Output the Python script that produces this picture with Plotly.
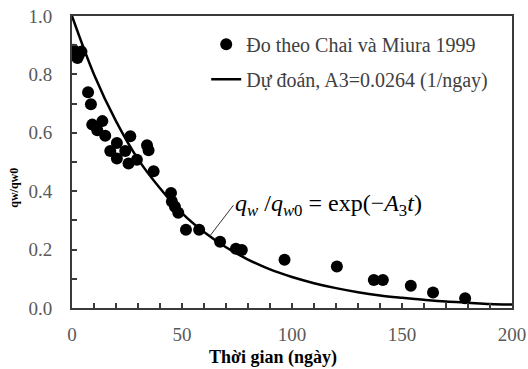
import plotly.graph_objects as go

# Measured data (Chai & Miura 1999)
t_obs = [0.7, 2.5, 4.3, 3.0, 7.3, 8.6, 9.2, 11.5, 13.8, 15.1, 17.4, 20.4, 20.4, 24.2, 26.5,
         25.7, 29.5, 34.1, 34.8, 37.1, 45.0, 45.4, 46.8, 48.3, 51.8, 57.8, 67.3, 74.5, 77.2,
         96.6, 120.4, 137.2, 141.3, 154.0, 164.1, 178.7]
q_obs = [0.884, 0.856, 0.878, 0.866, 0.739, 0.698, 0.628, 0.609, 0.640, 0.590, 0.538, 0.565,
         0.512, 0.538, 0.588, 0.495, 0.508, 0.557, 0.540, 0.468, 0.394, 0.365, 0.347, 0.326,
         0.268, 0.268, 0.227, 0.203, 0.199, 0.165, 0.142, 0.096, 0.096, 0.076, 0.053, 0.033]

# Predicted curve
t_pred = [0, 10, 20, 30, 40, 50, 60, 70, 80, 90, 100, 110, 120, 130, 140, 150, 160, 170, 180, 190, 200]
q_pred = [1.0, 0.80, 0.64, 0.51, 0.41, 0.325, 0.26, 0.208, 0.166, 0.132, 0.106, 0.085, 0.068,
          0.054, 0.043, 0.035, 0.028, 0.022, 0.018, 0.014, 0.012]

name_obs = "Đo theo Chai và Miura 1999"
name_pred = "Dự đoán, A3=0.0264 (1/ngay)"

FONT = "Liberation Serif"
AX = "#3a3a3a"

fig = go.Figure()
fig.add_trace(go.Scatter(x=t_obs, y=q_obs, mode="markers", name=name_obs, legendgroup="a",
                         marker=dict(color="black", size=12)))
fig.add_trace(go.Scatter(x=t_pred, y=q_pred, mode="lines", name=name_pred, legendgroup="b",
                         line=dict(color="black", width=2.5, shape="spline")))

axis_common = dict(showline=True, linecolor=AX, linewidth=2, mirror=True, showgrid=False,
                   zeroline=False, ticks="inside", ticklen=5, tickwidth=1.5, tickcolor=AX,
                   automargin=False,
                   tickfont=dict(family=FONT, size=19, color="#595959"))

fig.update_xaxes(range=[0, 200], dtick=50, tick0=0,
                 minor=dict(dtick=10, ticks="inside", ticklen=5, tickwidth=1.5, tickcolor=AX),
                 ticklabelstandoff=8, **axis_common)
fig.update_yaxes(range=[0, 1.0], dtick=0.2, tick0=0, tickformat=".1f",
                 minor=dict(dtick=0.1, ticks="inside", ticklen=5, tickwidth=1.5, tickcolor=AX),
                 ticklabelstandoff=14, **axis_common)

fig.add_annotation(xref="paper", yref="paper", x=-0.131, y=0.413, text="<b>qw/qw0</b>",
                   xanchor="center", yanchor="middle",
                   textangle=-90, showarrow=False, font=dict(family=FONT, size=12, color="black"))
fig.add_annotation(xref="paper", yref="paper", x=0.457, y=-0.169, text="<b>Thời gian (ngày)</b>",
                   xanchor="center", yanchor="middle",
                   showarrow=False, font=dict(family=FONT, size=18, color="black"))

fig.add_annotation(x=62.9, y=0.249, xref="x", yref="y",
                   text="<i>q</i><sub><i>w</i></sub> /<i>q</i><sub><i>w</i>0</sub> = exp(−<i>A</i><sub>3</sub><i>t</i>)",
                   showarrow=True, arrowhead=0, arrowwidth=1, arrowcolor="#333333",
                   ax=23, ay=-30, xanchor="left", yanchor="middle",
                   font=dict(family=FONT, size=24, color="black"))

fig.update_layout(
    width=528, height=369, autosize=False,
    margin=dict(l=72, r=16, t=16, b=61, autoexpand=False),
    paper_bgcolor="white", plot_bgcolor="white",
    font=dict(family=FONT),
    legend=dict(x=0.305, y=0.97, xanchor="left", yanchor="top", bgcolor="rgba(0,0,0,0)",
                font=dict(family=FONT, size=20, color="#404040"), tracegroupgap=6,
                traceorder="grouped"),
)

fig.write_html("out.html")
